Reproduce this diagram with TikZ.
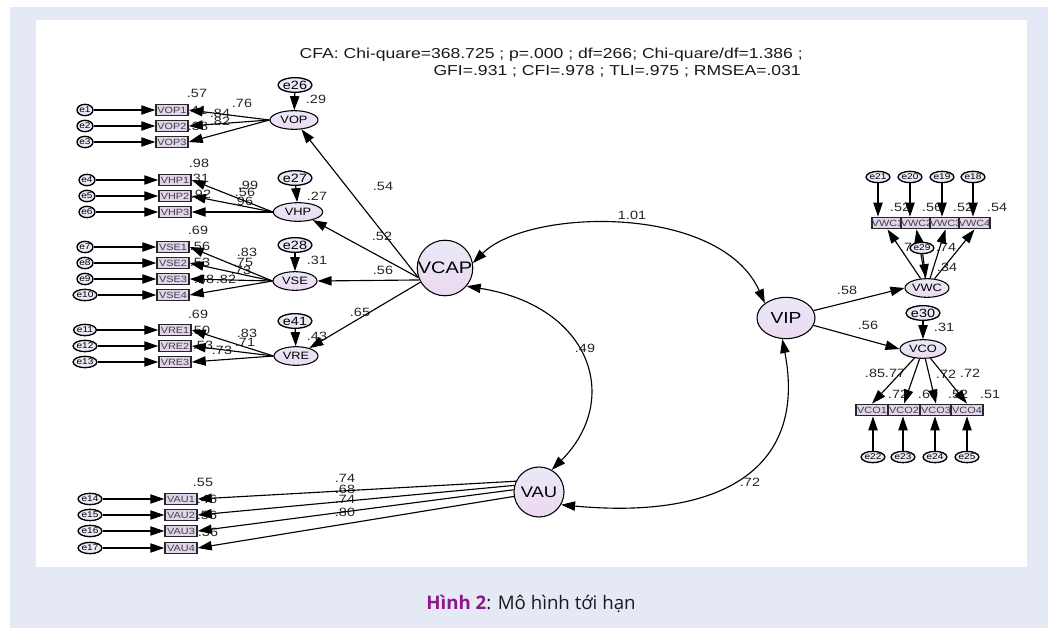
\documentclass[tikz,border=0pt]{standalone}
\usepackage{fontspec}
\usetikzlibrary{shapes.geometric,arrows.meta}
\newfontfamily\dg[FakeStretch=1.2]{Liberation Sans}
\newfontfamily\dgt[FakeStretch=1.22]{Liberation Sans}
\newfontfamily\capfont{Open Sans}
\definecolor{panel}{RGB}{229,233,245}
\definecolor{latA}{RGB}{233,233,247}
\definecolor{latB}{RGB}{237,216,241}
\definecolor{obsfill}{RGB}{226,212,236}
\definecolor{hinhpurple}{RGB}{140,25,140}
\tikzset{
  lat/.style={ellipse, draw=black, line width=0.8pt, top color=latA, bottom color=latB, inner sep=0pt},
  obs/.style={rectangle, draw=black!85, line width=1.1pt, fill=obsfill, minimum width=24pt,
    minimum height=8.5pt, inner sep=0pt, text=black!75, font=\dg\fontsize{6.8}{6.8}\selectfont},
  obsn/.style={obs, minimum width=21.75pt},
  err/.style={ellipse, draw=black, line width=1pt, fill=latA, minimum width=12pt,
    minimum height=8.5pt, inner sep=0pt, font=\dg\fontsize{6.3}{6.3}\selectfont},
  errbig/.style={err, minimum width=14pt, minimum height=11pt, font=\dg\fontsize{9}{9}\selectfont},
  lbl/.style={inner sep=0pt, text=black!85, font=\dg\fontsize{9}{9}\selectfont},
  ttl/.style={inner sep=0pt, text=black!90, font=\dgt\fontsize{10.8}{12}\selectfont},
  tip/.tip={Triangle[length=10.5pt,width=7pt]},
  arr/.style={line width=0.85pt, -tip},
  cov/.style={line width=0.85pt, tip-tip},
}
\begin{document}
\begin{tikzpicture}[x=0.75pt,y=-0.75pt]
\useasboundingbox (0,0) rectangle (1058,628);
% page frame
\fill[white] (0,0) rectangle (1058,628);
\fill[panel] (10,7) rectangle (1048,628);
\fill[white] (36,20) rectangle (1027,567);

% estimates (drawn first, lines pass over them)
\foreach \t/\x/\y in {
  .57/197/93, .29/316/99, .76/242/103, .84/220/113, .82/220/121, .41/197/110, .38/198/126,
  .98/199/163, .27/317/196, .99/248/185, .56/245/192, .96/243/201, .31/199/178, .92/201/194,
  .69/198/230, .31/317/260, .83/247/252, .75/243/262, .73/241/270, .56/200/246, .53/200/262, .68/204/279, .82/226/279,
  .69/198/314, .43/317/336, .83/247/333, .71/245/342, .50/200/330, .53/203/345, .73/222/350,
  .54/383/186, .52/382/236, .56/383/270, .65/360/312,
  .55/203/482, .46/207/499, .56/207/515, .36/208/532, .74/345/478, .68/345/489, .74/345/499, .80/345/512,
  1.01/632/215, .49/585/348, .72/750/482,
  .58/847/290, .56/868/325, .31/944/327, .34/947/267,
  .52/900/207, .56/932/207, .52/963/207, .54/997/207, .72/910/247, .74/946/247,
  .85/875/373, .77/895/373, .72/946/374, .72/970/373, .72/898/394, .60/928/394, .52/958/394, .51/990/394}
  \node[lbl] at (\x,\y) {\t};

% fit statistics
\node[ttl, anchor=base east] (fit1) at (803,58) {CFA: Chi-quare=368.725 ; p=.000 ; df=266; Chi-quare/df=1.386 ;};
\node[ttl, anchor=base east] (fit2) at (801,75) {GFI=.931 ; CFI=.978 ; TLI=.975 ; RMSEA=.031};

% first-order factors of VCAP
\node[lat, minimum width=36pt, minimum height=14pt, font=\dg\fontsize{8}{8}\selectfont] (VOP) at (294,120) {VOP};
\node[lat, minimum width=37pt, minimum height=14pt, font=\dg\fontsize{8}{8}\selectfont] (VHP) at (298,212) {VHP};
\node[lat, minimum width=33pt, minimum height=14pt, font=\dg\fontsize{8}{8}\selectfont] (VSE) at (295,281) {VSE};
\node[lat, minimum width=33pt, minimum height=14pt, font=\dg\fontsize{8}{8}\selectfont] (VRE) at (296,356) {VRE};

\foreach \i/\y in {1/110,2/126,3/142}{
  \node[err] (e\i) at (85,\y) {e\i};
  \node[obs] (VOP\i) at (172,\y) {VOP\i};
  \draw[arr] (e\i) -- (VOP\i);
  \draw[arr] (VOP.west) -- (VOP\i.east);
}
\foreach \i/\j/\y in {1/4/180,2/5/196,3/6/212}{
  \node[err] (e\j) at (87,\y) {e\j};
  \node[obs] (VHP\i) at (175,\y) {VHP\i};
  \draw[arr] (e\j) -- (VHP\i);
  \draw[arr] (VHP.west) -- (VHP\i.east);
}
\foreach \i/\j/\y in {1/7/247,2/8/263,3/9/279,4/10/295}{
  \node[err] (e\j) at (85,\y) {e\j};
  \node[obs] (VSE\i) at (173,\y) {VSE\i};
  \draw[arr] (e\j) -- (VSE\i);
  \draw[arr] (VSE.west) -- (VSE\i.east);
}
\foreach \i/\j/\y in {1/11/330,2/12/346,3/13/362}{
  \node[err] (e\j) at (85,\y) {e\j};
  \node[obs] (VRE\i) at (175,\y) {VRE\i};
  \draw[arr] (e\j) -- (VRE\i);
  \draw[arr] (VRE.west) -- (VRE\i.east);
}

% disturbances
\node[errbig] (e26) at (295,85) {e26};
\node[errbig] (e27) at (295,178) {e27};
\node[errbig] (e28) at (295,245) {e28};
\node[errbig] (e41) at (295,321) {e41};
\draw[arr] (e26) -- (VOP);
\draw[arr] (e27) -- (VHP);
\draw[arr] (e28) -- (VSE);
\draw[arr] (e41) -- (VRE);

% second-order factor VCAP
\node[lat, circle, minimum size=38pt, font=\dg\fontsize{12.5}{12.5}\selectfont] (VCAP) at (445,268) {VCAP};
\draw[arr] (VCAP.200) -- (VOP);
\draw[arr] (VCAP.200) -- (VHP);
\draw[arr] (VCAP.205) -- (VSE.east);
\draw[arr] (VCAP.210) -- (VRE);

% VAU
\node[lat, circle, minimum size=37.5pt, font=\dg\fontsize{11.5}{11.5}\selectfont] (VAU) at (539,492) {VAU};
\foreach \i/\j/\y/\a in {1/14/499/155,2/15/515/165,3/16/531/175,4/17/548/190}{
  \node[err] (e\j) at (90,\y) {e\j};
  \node[obs] (VAU\i) at (181,\y) {VAU\i};
  \draw[arr] (e\j) -- (VAU\i);
  \draw[arr] (VAU.\a) -- (VAU\i.east);
}

% VIP and its factors
\node[lat, minimum width=43.5pt, minimum height=31pt, font=\dg\fontsize{12}{12}\selectfont] (VIP) at (786,318) {VIP};
\node[lat, minimum width=33pt, minimum height=14pt, font=\dg\fontsize{8}{8}\selectfont] (VWC) at (927,288) {VWC};
\node[lat, minimum width=34.5pt, minimum height=14pt, font=\dg\fontsize{8}{8}\selectfont] (VCO) at (923,349) {VCO};
\draw[arr] (VIP.15) -- (VWC.west);
\draw[arr] (VIP.-15) -- (VCO.west);

\foreach \i/\j/\x/\ex in {1/21/887.5/878,2/20/916.5/910,3/19/945.5/942,4/18/974.5/973}{
  \node[obsn] (VWC\i) at (\x,223) {VWC\i};
  \node[err] (e\j) at (\ex,177) {e\j};
  \draw[arr] (e\j) -- (e\j |- VWC\i.north);
  \draw[arr] (VWC) -- (VWC\i.south);
}
\foreach \i/\j/\x/\ex in {1/22/872/873,2/23/904/903,3/24/936/935,4/25/967/967}{
  \node[obs] (VCO\i) at (\x,410) {VCO\i};
  \node[err] (e\j) at (\ex,457) {e\j};
  \draw[arr] (e\j) -- (e\j |- VCO\i.south);
  \draw[arr] (VCO) -- (VCO\i.north);
}
\node[err] (e29) at (922,248) {e29};
\draw[arr] (e29) -- (VWC);
\node[errbig] (e30) at (923,313) {e30};
\draw[arr] (e30) -- (VCO);

% covariances
\draw[cov] (VCAP.10) .. controls +(55,-55) and +(-45,-100) .. (VIP.145);
\draw[cov] (VCAP.-40) .. controls +(125,20) and +(70,-70) .. (VAU.60);
\draw[cov] (VIP.-100) .. controls +(25,130) and +(160,15) .. (VAU.-30);

% caption
\node[inner sep=0pt, font=\capfont\fontsize{14}{16}\selectfont, text=black!90] (cap) at (531,604)
  {\textcolor{hinhpurple}{\bfseries Hình 2}: Mô hình tới hạn};
\end{tikzpicture}
\end{document}
